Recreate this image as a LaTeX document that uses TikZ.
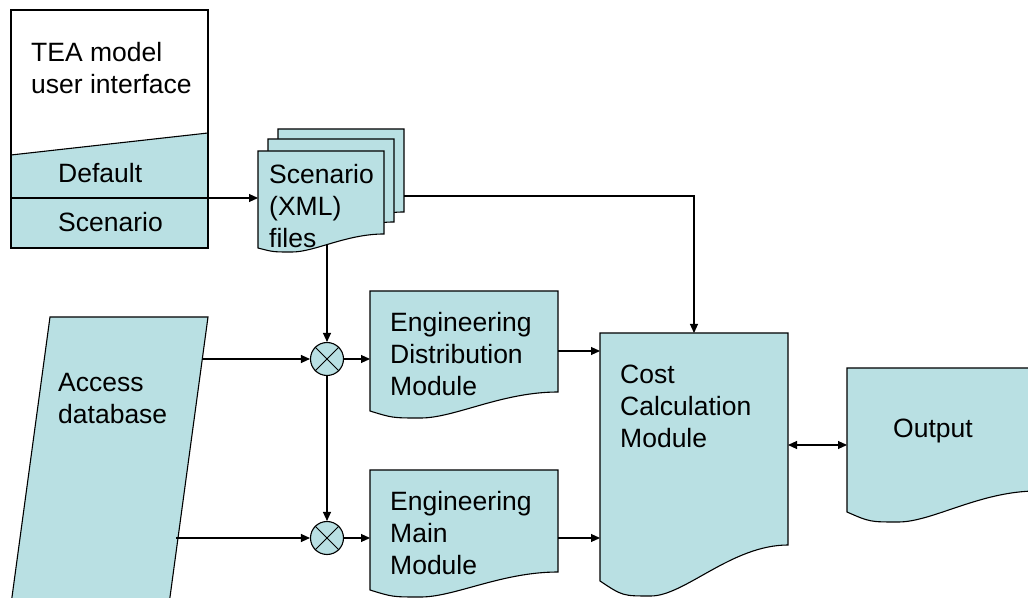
\documentclass[tikz,border=0pt]{standalone}
\usepackage{fontspec}
\setmainfont{Liberation Sans}
\usetikzlibrary{arrows.meta,calc,positioning}
\definecolor{docteal}{RGB}{185,224,227}
% document outline of a body node: name, rise of right corner, dip of wave
\newcommand{\docoutline}[3]{%
  \draw[outline] (#1.south west) -- (#1.north west) -- (#1.north east)
    -- ($(#1.south east)+(0,#2)$)
    .. controls ($(#1.south west)!0.7!(#1.south east)+(0,#2)$) and ($(#1.south west)!0.45!(#1.south east)+(0,-#3)$)
    .. ($(#1.south west)!0.27!(#1.south east)+(0,-#3)$)
    .. controls ($(#1.south west)!0.12!(#1.south east)+(0,-#3)$) .. (#1.south west) -- cycle;}
\tikzset{
  outline/.style={draw=black, fill=docteal, line width=1.1pt},
  body/.style={rectangle, inner sep=0pt, outer sep=0pt, draw=none},
  txt/.style={inner sep=0pt, align=left, anchor=west, font=\fontsize{26.5}{32}\selectfont},
  arr/.style={-{Triangle[length=9pt,width=8pt]}, line width=1.1pt},
  arrs/.style={{Triangle[length=9pt,width=8pt]}-{Triangle[length=9pt,width=8pt]}, line width=1.1pt},
  mixer/.style={circle, draw, fill=docteal, line width=1.1pt, minimum size=33pt, inner sep=0pt}
}
\begin{document}
\begin{tikzpicture}[x=1pt,y=1pt]
\useasboundingbox (0,0) rectangle (1028,597);
\clip (0,0) rectangle (1028,597);

% bodies
\node[body, minimum width=197pt, minimum height=238pt] (ui) at (109.5,468) {};
\node[body, minimum width=126pt, minimum height=97pt] (files3) at (341,419.5) {};
\node[body, minimum width=126pt, minimum height=97pt] (files2) at (331,409.5) {};
\node[body, minimum width=126pt, minimum height=97pt] (files1) at (321,397.5) {};
\node[body, minimum width=188pt, minimum height=120pt] (ed) at (464,246) {};
\node[body, minimum width=188pt, minimum height=120pt] (em) at (464,67) {};
\node[body, minimum width=188pt, minimum height=248pt] (cost) at (694,140) {};
\node[body, minimum width=190pt, minimum height=144pt] (out) at (942,157) {};

% user interface
\fill[docteal] (ui.south west) -- ++(0,93) -- ($(ui.south east)+(0,115)$) -- (ui.south east) -- cycle;
\draw[line width=1.1pt] ($(ui.south west)+(0,93)$) -- ($(ui.south east)+(0,115)$);
\draw[line width=1.1pt] (ui.south west) rectangle (ui.north east);
\coordinate (split) at (11,399);
\draw[line width=1.1pt] (split) -- (split -| ui.east);

% scenario files
\docoutline{files3}{14}{4}
\docoutline{files2}{14}{4}
\docoutline{files1}{14}{4}

% access database
\path[outline] (50,280) -- (208,280) -- (169.6,-3) -- (11.6,-3) -- cycle;
\coordinate (acc1) at (202.4,238);
\coordinate (acc2) at (176,59);

% modules
\docoutline{ed}{19}{7}
\docoutline{em}{18}{7}
\docoutline{cost}{36}{15}
\docoutline{out}{21}{10}

\node[mixer] (c1) at (327,238) {};
\node[mixer] (c2) at (327,59) {};
\draw[line width=1pt] (c1.north west) -- (c1.south east) (c1.north east) -- (c1.south west);
\draw[line width=1pt] (c2.north west) -- (c2.south east) (c2.north east) -- (c2.south west);

% connectors
\draw[arr] (split -| ui.east) -- (split -| files1.west);
\draw[arr] ([yshift=-18.5pt]files3.east) -| (cost.north);
\draw[arr] ([yshift=3pt]files1.south -| c1) -- (c1.north);
\draw[arr] (c1.south) -- (c2.north);
\draw[arr] (acc1) -- (c1.west);
\draw[arr] (acc2) -- (c2.west);
\draw[arr] (c1.east) -- (c1 -| ed.west);
\draw[arr] (c2.east) -- (c2 -| em.west);
\draw[arr] (ed.east) -- (ed.east -| cost.west);
\draw[arr] (c2 -| em.east) -- (c2 -| cost.west);
\draw[arrs] ([yshift=-5pt]out.west -| cost.east) -- ([yshift=-5pt]out.west);

% texts
\node[txt] (uitext) at (31,529) {TEA model\\user interface};
\node[txt] (deftext) at (58,424) {Default};
\node[txt] (scntext) at (58,375) {Scenario};
\node[txt] (filestext) at (269,390.5) {Scenario\\(XML)\\files};
\node[txt] (acctext) at (58,198.5) {Access\\database};
\node[txt] (edtext) at (390,243) {Engineering\\Distribution\\Module};
\node[txt] (emtext) at (390,64) {Engineering\\Main\\Module};
\node[txt] (costtext) at (620,191) {Cost\\Calculation\\Module};
\node[txt] (outtext) at (893,166) {Output};
\end{tikzpicture}
\end{document}
